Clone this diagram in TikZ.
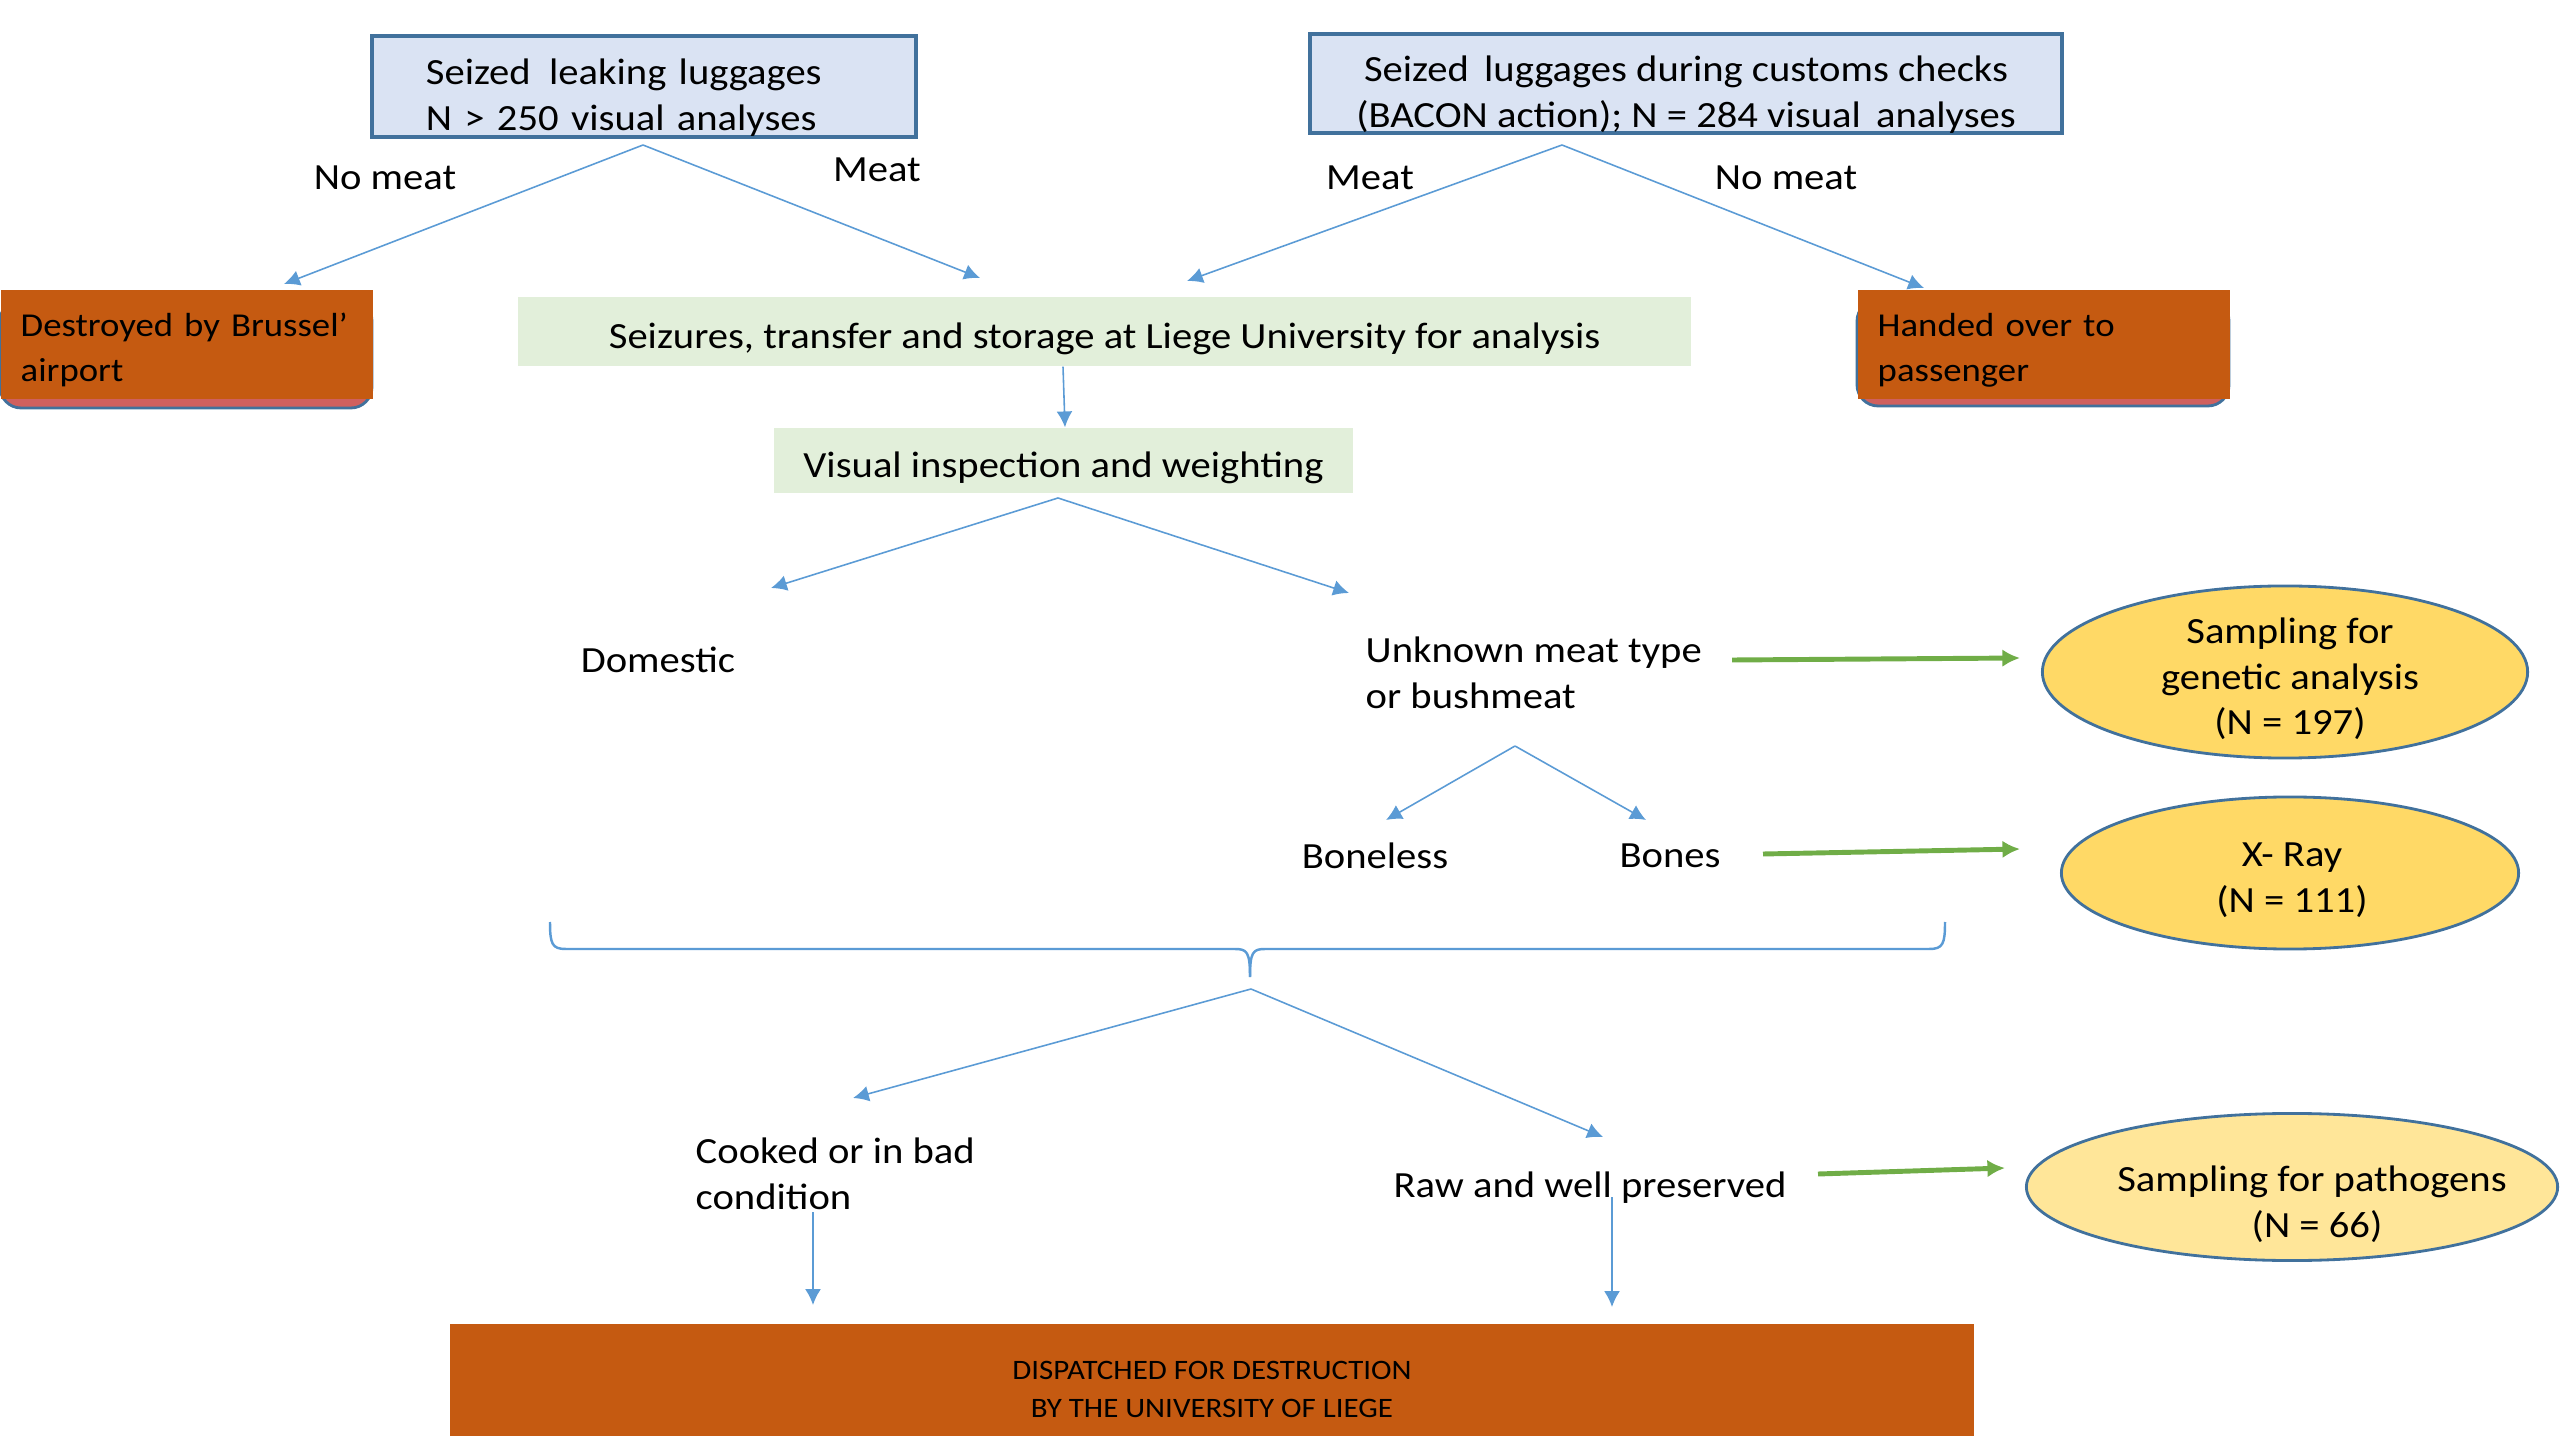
\documentclass[tikz,border=0pt]{standalone}
\usepackage{fontspec}
\setmainfont{Carlito}[FakeStretch=1.1]
\usetikzlibrary{arrows.meta,shapes.geometric}
\definecolor{boxblue}{HTML}{DAE3F3}
\definecolor{edgeblue}{HTML}{41719C}
\definecolor{lineblue}{HTML}{5B9BD5}
\definecolor{palegreen}{HTML}{E2EFDA}
\definecolor{rust}{HTML}{C55A11}
\definecolor{salmon}{HTML}{D0605E}
\definecolor{arrgreen}{HTML}{70AD47}
\definecolor{gold}{HTML}{FFD966}
\definecolor{lightgold}{HTML}{FFE699}
\newcommand{\padtop}{\rule{0pt}{13.5pt}}
\begin{document}
\begin{tikzpicture}[x=0.01cm,y=-0.01cm,
    every node/.style={font=\fontsize{10.5}{13}\selectfont},
    seizebox/.style={draw=edgeblue,line width=1.2pt,fill=boxblue,inner sep=0pt},
    stepbox/.style={fill=palegreen,inner sep=0pt,text height=9.4pt,text depth=0pt},
    endbox/.style={fill=rust,inner ysep=0pt,inner xsep=0.2cm,align=left,anchor=north west,minimum width=3.72cm,minimum height=1.09cm,text width=3.32cm,font=\fontsize{9.5}{12.6}\selectfont},
    sample/.style={ellipse,draw=edgeblue,line width=0.8pt,fill=gold,inner sep=0pt},
    plain/.style={inner sep=0pt,align=left},
    blarrow/.style={draw=lineblue,line width=0.45pt,-{Latex[length=4.5pt,width=4.5pt]}},
    grarrow/.style={draw=arrgreen,line width=1.4pt,-{Latex[length=5pt,width=5pt]}}]
    \useasboundingbox (0,0) rectangle (2560,1440);
    % top boxes
    \node[seizebox,minimum width=5.44cm,minimum height=1.01cm,text width=4.36cm,align=left] (leak) at (644,86.5) {\padtop Seized\, leaking luggages\\N > 250 visual analyses};
    \node[seizebox,minimum width=7.51cm,minimum height=0.95cm,align=center] (bacon) at (1686,83.5) {\padtop Seized\, luggages during customs checks\\(BACON action); N = 284 visual\, analyses};
    % orange outcome boxes
    \draw[fill=salmon,draw=edgeblue,line width=0.8pt,rounded corners=6pt] (0,300) rectangle (372,408);
    \node[endbox] (destroy) at (0,289) {\rule{0pt}{10pt}\mbox{Destroyed by Brussel’}\\airport};
    \draw[fill=salmon,draw=edgeblue,line width=0.8pt,rounded corners=6pt] (1857,300) rectangle (2229,406);
    \node[endbox] (handed) at (1857,289) {\rule{0pt}{10pt}Handed over to\\passenger};
    % green steps
    \node[stepbox,minimum width=11.73cm,minimum height=0.69cm] (store) at (1104.5,331.5) {Seizures, transfer and storage at Liege University for analysis};
    \node[stepbox,minimum width=5.79cm,minimum height=0.65cm] (visual) at (1063.5,460.5) {Visual inspection and weighting};
    % plain labels
    \node[plain] (nomeatA) at (385,178) {No meat};
    \node[plain] (meatA) at (877,170) {Meat};
    \node[plain] (meatB) at (1370,178) {Meat};
    \node[plain] (nomeatB) at (1786,178) {No meat};
    \node[plain] (domestic) at (658,660) {Domestic};
    \node[plain,anchor=west] (unknown) at (1365,673) {Unknown meat type\\or bushmeat};
    \node[plain] (boneless) at (1375,856) {Boneless};
    \node[plain] (bones) at (1670,856) {Bones};
    \node[plain,anchor=west] (cooked) at (695,1174) {Cooked or in bad\\condition};
    \node[plain] (raw) at (1590,1188) {Raw and well preserved};
    % ellipses
    \node[sample,minimum width=4.85cm,minimum height=1.72cm] (genetic) at (2285,672) {};
    \node[plain,align=center] (genetictxt) at (2290,679) {Sampling for\\genetic analysis\\(N = 197)};
    \node[sample,minimum width=4.57cm,minimum height=1.52cm] (xray) at (2290,873) {};
    \node[plain,align=center] (xraytxt) at (2292,880) {X- Ray\\(N = 111)};
    \node[sample,fill=lightgold,minimum width=5.31cm,minimum height=1.47cm] (pathogen) at (2292,1187) {};
    \node[plain,align=center] (pathogentxt) at (2312,1204) {Sampling for pathogens\\\hspace*{0.1cm}(N = 66)};
    % destruction box
    \node[fill=rust,minimum width=15.24cm,minimum height=1.11cm,align=center,font=\fontsize{8}{11}\selectfont] (dispatch) at (1212,1380) {\rule{0pt}{10.5pt}DISPATCHED FOR DESTRUCTION\\BY THE UNIVERSITY OF LIEGE};
    % branch points and tips
    \coordinate (forkA) at (643,145);
    \coordinate (tipA1) at (284,284);
    \coordinate (tipA2) at (980,278);
    \coordinate (forkB) at (1562,145);
    \coordinate (tipB1) at (1187,281);
    \coordinate (tipB2) at (1924,288);
    \coordinate (forkC) at (1058,498);
    \coordinate (tipC1) at (771,588);
    \coordinate (tipC2) at (1349,593);
    \coordinate (forkD) at (1515,746);
    \coordinate (tipD1) at (1386,820);
    \coordinate (tipD2) at (1646,820);
    \coordinate (forkE) at (1251,989);
    \coordinate (tipE1) at (853,1098);
    \coordinate (tipE2) at (1603,1137);
    \coordinate (cookedfoot) at (813,1212);
    \coordinate (cookedtip) at (813,1305);
    \coordinate (rawfoot) at (1612,1197);
    \coordinate (rawtip) at (1612,1307);
    \draw[blarrow] (forkA) -- (tipA1);
    \draw[blarrow] (forkA) -- (tipA2);
    \draw[blarrow] (forkB) -- (tipB1);
    \draw[blarrow] (forkB) -- (tipB2);
    \draw[blarrow] (store.south -| 1063,0) -- (visual.north -| 1065,0);
    \draw[blarrow] (forkC) -- (tipC1);
    \draw[blarrow] (forkC) -- (tipC2);
    \draw[blarrow] (forkD) -- (tipD1);
    \draw[blarrow] (forkD) -- (tipD2);
    \draw[blarrow] (forkE) -- (tipE1);
    \draw[blarrow] (forkE) -- (tipE2);
    \draw[blarrow] (cookedfoot) -- (cookedtip);
    \draw[blarrow] (rawfoot) -- (rawtip);
    % green arrows to sampling
    \coordinate (unknownend) at (1732,660);
    \coordinate (geneticend) at (2020,658);
    \coordinate (bonesend) at (1763,854);
    \coordinate (xrayend) at (2020,849);
    \coordinate (rawend) at (1818,1174);
    \coordinate (pathogenend) at (2005,1168);
    \draw[grarrow] (unknownend) -- (geneticend);
    \draw[grarrow] (bonesend) -- (xrayend);
    \draw[grarrow] (rawend) -- (pathogenend);
    % brace
    \draw[lineblue,line width=0.7pt] (550,922) .. controls (550,944) and (552,949) .. (566,949) -- (1235,949) .. controls (1247,949) and (1250,952) .. (1250,977);
    \draw[lineblue,line width=0.7pt] (1945,922) .. controls (1945,944) and (1943,949) .. (1929,949) -- (1265,949) .. controls (1253,949) and (1250,952) .. (1250,977);
\end{tikzpicture}
\end{document}
